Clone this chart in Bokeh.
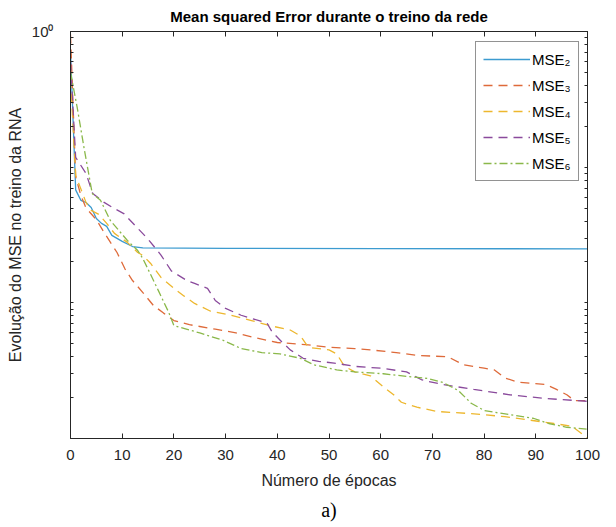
from bokeh.plotting import figure
from bokeh.models import Range1d, FixedTicker, LinearAxis, LogAxis, Legend, LegendItem, Title
from bokeh.embed import file_html
from bokeh.resources import INLINE

# ---- data ----
x_ticks = [0, 10, 20, 30, 40, 50, 60, 70, 80, 90, 100]
y_tick_label = {1: "10\u2070"}

mse2_ep = [0, 1, 2, 3, 4, 5, 6, 7, 8, 10, 12, 14, 30, 60, 100]
mse2 = [0.72, 0.068, 0.057, 0.0549, 0.0505, 0.0419, 0.0385, 0.0366, 0.0314, 0.0284, 0.0260,
        0.0254, 0.0252, 0.0251, 0.0250]

mse3_ep = [0, 1, 2, 3, 5, 6.5, 9, 10.5, 12, 14, 16, 18, 20, 23, 28, 32, 36, 40, 43, 46, 50, 55,
           58, 63, 67, 73, 76, 80, 82, 84, 86.5, 92, 94, 96, 97.5, 100]
mse3 = [0.95, 0.085, 0.062, 0.050, 0.041, 0.033, 0.0235, 0.0179, 0.0146, 0.0119, 0.0096, 0.0084,
        0.0074, 0.0069, 0.0064, 0.0060, 0.0055, 0.0051, 0.0050, 0.0049, 0.0047, 0.0046, 0.0045,
        0.0043, 0.0041, 0.0040, 0.0035, 0.0033, 0.0032, 0.0028, 0.0026, 0.0025, 0.0023, 0.0021,
        0.0019, 0.0019]

mse4_ep = [0, 1, 3, 4, 5.5, 7, 8.5, 11, 13, 14, 15.5, 17.5, 20, 22, 24, 27, 31, 35, 38.5, 42.5,
           44.5, 46, 50, 51.5, 53, 55, 58, 60.5, 62.5, 64, 67, 71, 77, 84, 88, 93.5, 97, 100]
mse4 = [0.45, 0.087, 0.055, 0.048, 0.0448, 0.0385, 0.0325, 0.0279, 0.0235, 0.0224, 0.0195, 0.0154,
        0.0128, 0.0112, 0.0099, 0.0087, 0.0081, 0.0074, 0.0068, 0.0063, 0.0057, 0.0047, 0.0045,
        0.0042, 0.0034, 0.0031, 0.0029, 0.0024, 0.0021, 0.00185, 0.0017, 0.00158, 0.00153,
        0.00145, 0.00138, 0.00129, 0.00123, 0.00101]

mse5_ep = [0, 1, 3, 4.3, 6.5, 8.5, 10.3, 15, 17.5, 19.5, 22.5, 24, 26.5, 28, 30, 33, 38, 39, 41,
           42.5, 45, 48, 51, 55, 60, 65, 68, 72, 78, 85, 92, 100]
mse5 = [0.6, 0.118, 0.090, 0.064, 0.055, 0.0495, 0.0455, 0.0295, 0.0225, 0.0172, 0.0146, 0.0139,
        0.0128, 0.0104, 0.0091, 0.0081, 0.0071, 0.0061, 0.0051, 0.0045, 0.0039, 0.0037, 0.0036,
        0.0034, 0.0033, 0.0031, 0.0027, 0.0025, 0.0023, 0.0021, 0.00197, 0.00188]

mse6_ep = [0, 1.3, 2.6, 4.2, 5.8, 7.7, 11, 13, 14, 17, 19, 20, 25, 29.5, 33, 37, 40.5, 44.5, 47,
           51.5, 55, 60.5, 65, 69, 72, 75, 77.5, 80, 82, 86, 89.5, 92.5, 96, 100]
mse6 = [0.5, 0.275, 0.14, 0.064, 0.057, 0.0405, 0.0288, 0.0243, 0.0212, 0.0123, 0.0085, 0.0068,
        0.0060, 0.0053, 0.0046, 0.0043, 0.0042, 0.0039, 0.0035, 0.0032, 0.0031, 0.0030, 0.00287,
        0.00277, 0.00259, 0.00226, 0.00182, 0.00161, 0.00156, 0.00148, 0.00141, 0.00129,
        0.00121, 0.00117]

labels = ["MSE\u2082", "MSE\u2083", "MSE\u2084", "MSE\u2085", "MSE\u2086"]
# ---------------------------------------

FONT = "Liberation Sans"
AX = "#262626"

p = figure(width=616, height=527, x_range=Range1d(0, 100), y_range=Range1d(1e-3, 1),
           y_axis_type="log", output_backend="svg", toolbar_location=None,
           min_border_left=70, min_border_right=29, min_border_top=31, min_border_bottom=89,
           title="Mean squared Error durante o treino da rede")
p.grid.visible = False
p.outline_line_color = AX
p.title.align = "center"
p.title.vertical_align = "top"
p.title.text_font = FONT
p.title.text_font_size = "15px"
p.title.text_font_style = "bold"
p.title.text_color = "black"
p.title.standoff = 9

minor = [m * 10.0 ** e for e in (-3, -2, -1) for m in range(1, 10) if not (e == -3 and m == 1)]

def style(ax):
    ax.axis_line_color = AX
    ax.major_tick_line_color = AX
    ax.minor_tick_line_color = AX
    ax.major_tick_out = 0
    ax.minor_tick_out = 0
    ax.major_label_text_font = FONT
    ax.major_label_text_color = AX
    ax.axis_label_text_font = FONT
    ax.axis_label_text_color = AX
    ax.axis_label_text_font_style = "normal"

xa = p.xaxis[0]
xa.ticker = FixedTicker(ticks=x_ticks)
style(xa)
xa.major_tick_in = 5
xa.major_label_text_font_size = "15px"
xa.major_label_standoff = 11
xa.axis_label = "Número de épocas"
xa.axis_label_text_font_size = "16px"
xa.axis_label_standoff = 9

ya = p.yaxis[0]
ya.ticker = FixedTicker(ticks=[1.0], minor_ticks=minor)
style(ya)
ya.major_tick_in = 5
ya.minor_tick_in = 3
ya.major_label_overrides = y_tick_label
ya.major_label_text_font_size = "15px"
ya.major_label_standoff = 17
ya.axis_label = "Evolução do MSE no treino da RNA"
ya.axis_label_text_font_size = "16px"
ya.axis_label_standoff = 5

top = LinearAxis(ticker=FixedTicker(ticks=x_ticks))
style(top)
top.major_tick_in = 5
top.major_label_text_font_size = "1px"
top.major_label_text_alpha = 0
top.major_label_standoff = 0
p.add_layout(top, "above")

right = LogAxis(ticker=FixedTicker(ticks=[1.0], minor_ticks=minor))
style(right)
right.major_tick_in = 5
right.minor_tick_in = 3
right.major_label_text_font_size = "1px"
right.major_label_text_alpha = 0
right.major_label_standoff = 0
p.add_layout(right, "right")

colors = ["#3C9BD0", "#DE6A3A", "#EDB72E", "#8A4A9C", "#8AB84A"]
dashes = ["solid", "9 6", "9 6", "9 6", "8 3 2 3"]
series = [(mse2_ep, mse2), (mse3_ep, mse3), (mse4_ep, mse4), (mse5_ep, mse5), (mse6_ep, mse6)]
renderers = []
for (xs, ys), c, d in zip(series, colors, dashes):
    r = p.line(xs, ys, line_color=c, line_width=1.3, line_dash=d)
    renderers.append(r)

legend = Legend(items=[LegendItem(label=l, renderers=[r]) for l, r in zip(labels, renderers)],
                location=(405, 257))
legend.border_line_color = AX
legend.border_line_width = 1
legend.background_fill_alpha = 1
legend.label_text_font = FONT
legend.label_text_font_size = "15px"
legend.label_text_color = "black"
legend.glyph_width = 47
legend.glyph_height = 20
legend.label_height = 20
legend.label_standoff = 2
legend.spacing = 6
legend.padding = 7
legend.margin = 0
p.add_layout(legend)

p.add_layout(Title(text="a)", align="center", text_font="Liberation Serif", text_font_size="20px",
                   text_font_style="normal", text_color="black"), "below")

open("out.html", "w").write(file_html(p, INLINE))
